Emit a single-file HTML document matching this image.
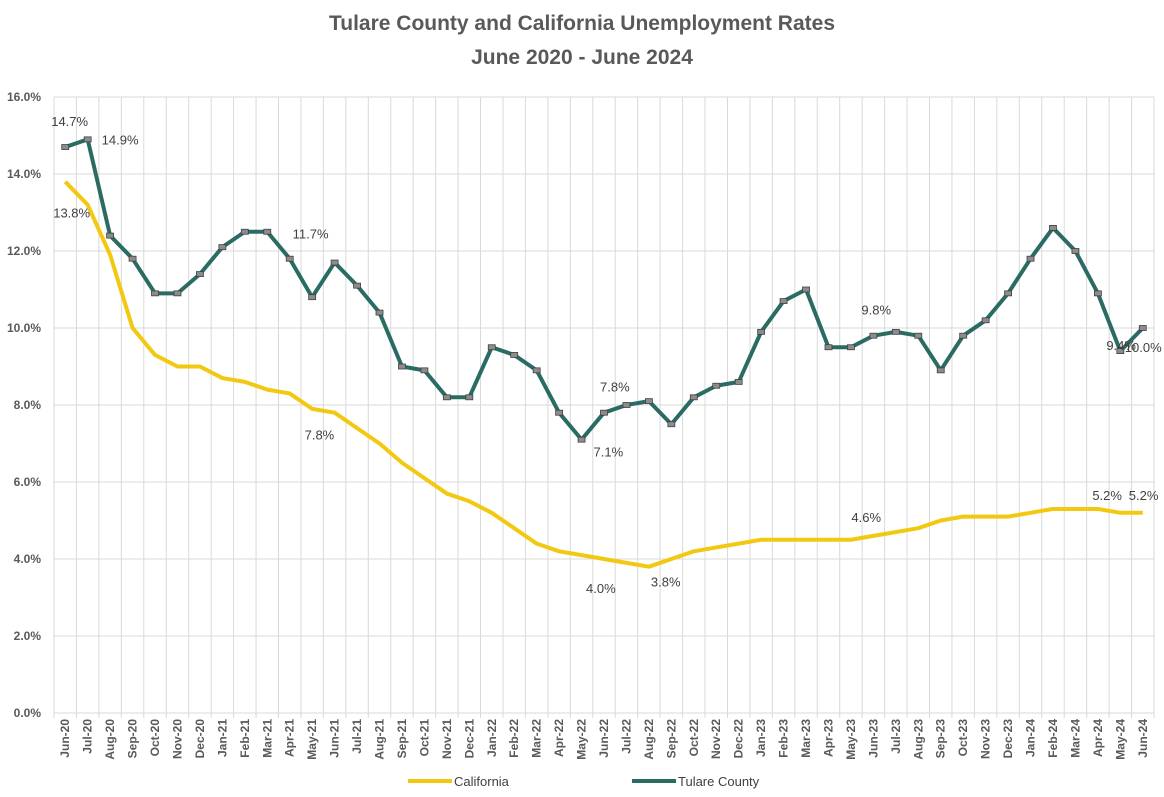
<!DOCTYPE html>
<html><head><meta charset="utf-8">
<style>
body{margin:0;background:#fff;}
svg text{font-family:"Liberation Sans",sans-serif;}
</style></head>
<body>
<svg id="chart" width="1164" height="792" xmlns="http://www.w3.org/2000/svg">
<rect width="1164" height="792" fill="#fff"/>
<text x="582" y="30" text-anchor="middle" font-size="21" font-weight="bold" fill="#595959">Tulare County and California Unemployment Rates</text>
<text x="582" y="64" text-anchor="middle" font-size="21" font-weight="bold" fill="#595959">June 2020 - June 2024</text>
<g id="grid"></g><g id="axes"></g><g id="series"></g><g id="labels"></g>
<g>
<line x1="408" y1="781" x2="452" y2="781" stroke="#F2C811" stroke-width="4"/>
<text x="454" y="786" font-size="13" fill="#404040">California</text>
<line x1="632" y1="781" x2="676" y2="781" stroke="#2A6B63" stroke-width="4"/>
<text x="678" y="786" font-size="13" fill="#404040">Tulare County</text>
</g>
</svg>
<script>
const categories=["Jun-20","Jul-20","Aug-20","Sep-20","Oct-20","Nov-20","Dec-20","Jan-21","Feb-21","Mar-21","Apr-21","May-21","Jun-21","Jul-21","Aug-21","Sep-21","Oct-21","Nov-21","Dec-21","Jan-22","Feb-22","Mar-22","Apr-22","May-22","Jun-22","Jul-22","Aug-22","Sep-22","Oct-22","Nov-22","Dec-22","Jan-23","Feb-23","Mar-23","Apr-23","May-23","Jun-23","Jul-23","Aug-23","Sep-23","Oct-23","Nov-23","Dec-23","Jan-24","Feb-24","Mar-24","Apr-24","May-24","Jun-24"];
const tulare=[14.7,14.9,12.4,11.8,10.9,10.9,11.4,12.1,12.5,12.5,11.8,10.8,11.7,11.1,10.4,9.0,8.9,8.2,8.2,9.5,9.3,8.9,7.8,7.1,7.8,8.0,8.1,7.5,8.2,8.5,8.6,9.9,10.7,11.0,9.5,9.5,9.8,9.9,9.8,8.9,9.8,10.2,10.9,11.8,12.6,12.0,10.9,9.4,10.0];
const california=[13.8,13.2,11.9,10.0,9.3,9.0,9.0,8.7,8.6,8.4,8.3,7.9,7.8,7.4,7.0,6.5,6.1,5.7,5.5,5.2,4.8,4.4,4.2,4.1,4.0,3.9,3.8,4.0,4.2,4.3,4.4,4.5,4.5,4.5,4.5,4.5,4.6,4.7,4.8,5.0,5.1,5.1,5.1,5.2,5.3,5.3,5.3,5.2,5.2];
const yTicks=[0,2,4,6,8,10,12,14,16];
const tulareLabels=[[0,"14.7%",-14,-21],[1,"14.9%",14,5],[12,"11.7%",-42,-24],[23,"7.1%",12,17],[24,"7.8%",-4,-21],[36,"9.8%",-12,-21],[47,"9.4%",-14,-1],[48,"10.0%",-18,24]];
const caLabels=[[0,"13.8%",-12,36],[12,"7.8%",-30,27],[24,"4.0%",-18,34],[26,"3.8%",2,20],[36,"4.6%",-22,-14],[47,"5.2%",-28,-13],[48,"5.2%",-14,-13]];
const NS="http://www.w3.org/2000/svg";
const L=54,R=1154,T=97,B=713,bw=(R-L)/categories.length;
const x=i=>L+bw*(i+0.5), y=v=>B-(v/16)*(B-T);
function mk(t,a,p){const e=document.createElementNS(NS,t);for(const k in a)e.setAttribute(k,a[k]);p.appendChild(e);return e;}
const grid=document.getElementById('grid'),axes=document.getElementById('axes'),ser=document.getElementById('series'),lab=document.getElementById('labels');
yTicks.forEach(v=>{
 const g=mk('line',{x1:L,x2:R,y1:y(v),y2:y(v),stroke:'#d9d9d9','stroke-width':1},grid);
 
 
 const t=mk('text',{x:L-13,y:y(v)+4,'text-anchor':'end','font-size':12,'font-weight':'bold',fill:'#595959'},axes);
 t.textContent=v.toFixed(1)+'%';
 
 
});
for(let i=0;i<=categories.length;i++){
 const g=mk('line',{x1:L+bw*i,x2:L+bw*i,y1:T,y2:B+5,stroke:'#d9d9d9','stroke-width':1},grid);
 
 
}
categories.forEach((c,i)=>{
 const t=mk('text',{x:0,y:0,'text-anchor':'end','font-size':12,'font-weight':'bold',fill:'#595959',transform:`translate(${x(i)+4},${B+6}) rotate(-90)`},axes);
 t.textContent=c;
 
 
});
function line(vals,color,name){
 const p=mk('polyline',{points:vals.map((v,i)=>x(i)+','+y(v)).join(' '),fill:'none',stroke:color,'stroke-width':4,'stroke-linejoin':'round'},ser);
 
 
}
line(california,'#F2C811','california-line');
line(tulare,'#2A6B63','tulare-line');
tulare.forEach((v,i)=>{
 const m=mk('rect',{x:x(i)-3.5,y:y(v)-2.5,width:7,height:5,fill:'#8c8c8c',stroke:'#404040','stroke-width':0.8},ser);
 
 
});
function labels(arr,vals,name){
 arr.forEach(([i,s,dx,dy])=>{
  const t=mk('text',{x:x(i)+dx,y:y(vals[i])+dy,'font-size':13,fill:'#404040'},lab);
  t.textContent=s;
  
  
 });
}
labels(tulareLabels,tulare,'tulare-data-label');
labels(caLabels,california,'california-data-label');
</script>
</body></html>
